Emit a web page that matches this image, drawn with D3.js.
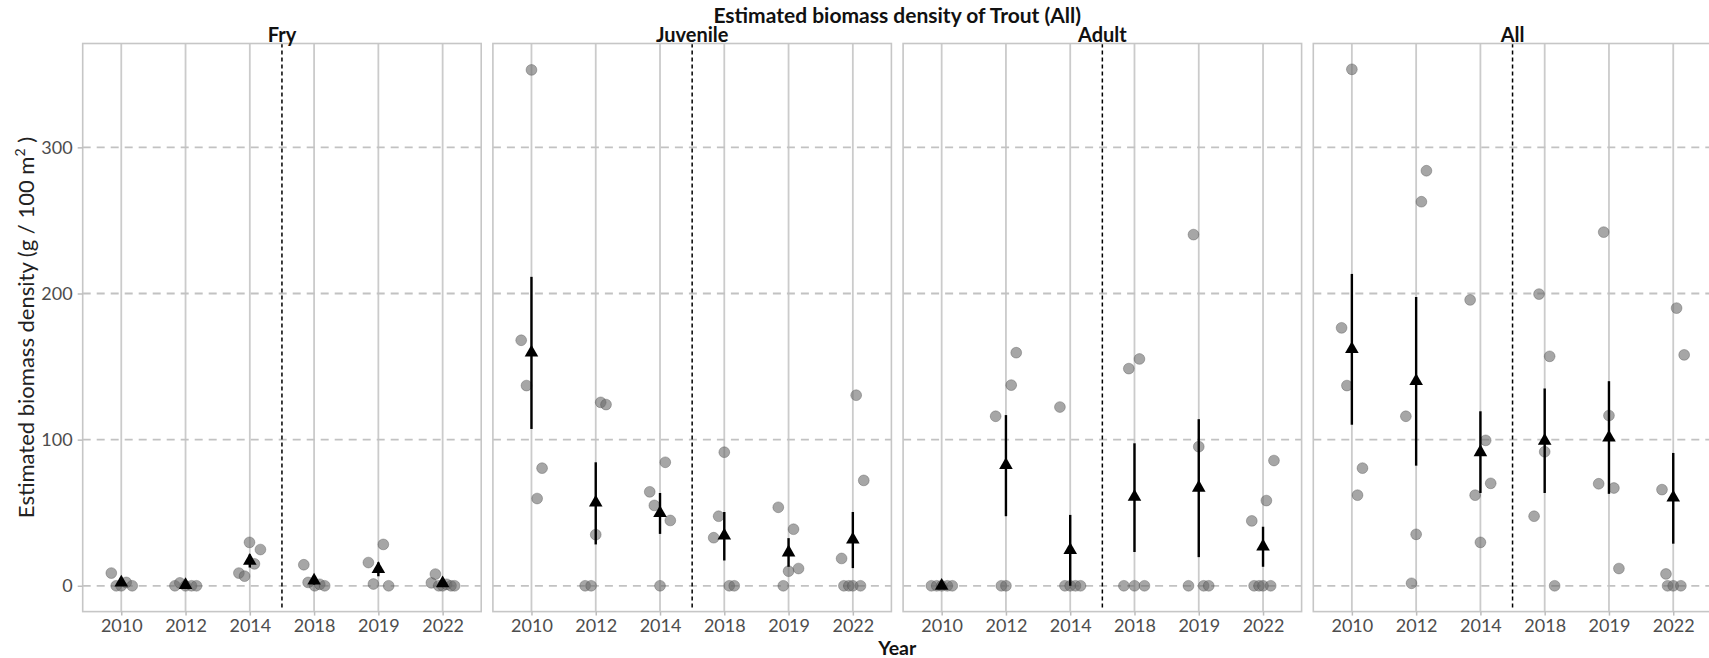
<!DOCTYPE html>
<html>
<head>
<meta charset="utf-8">
<script src="https://cdn.jsdelivr.net/npm/d3@7"></script>
<style>
  html, body { margin: 0; padding: 0; background: #fff; }
  svg { display: block; }
  text { font-family: Lato, "Open Sans", sans-serif; }
</style>
</head>
<body>
<svg id="chart" width="1709" height="658"></svg>
<script>
// ---- data ---------------------------------------------------------------
const stages = ["Fry", "Juvenile", "Adult", "All"];
const years = ["2010", "2012", "2014", "2018", "2019", "2022"];
const yTicks = [0, 100, 200, 300];

// per-site biomass density (g / 100 m^2), one list per survey year
const fryDensity = [
  [8.7, 0, 0, 2.3, 0],
  [0, 2, 0, 0, 0],
  [29.7, 24.8, 8.7, 6.6, 15],
  [14.4, 2.3, 0, 1, 0],
  [15.9, 28.3, 1.2, 0],
  [2, 8, 0, 0, 1, 0, 0]
];
const juvenileDensity = [
  [353, 168, 137, 80.5, 59.7],
  [125.5, 124, 35, 0, 0],
  [64.3, 84.5, 55, 44.7, 0],
  [91.4, 47.6, 32.9, 0, 0],
  [53.7, 38.7, 10, 11.8, 0],
  [130.4, 72.1, 18.7, 0, 0, 0, 0]
];
const adultDensity = [
  [0, 0, 0, 0, 0],
  [159.5, 137.3, 116, 0, 0],
  [122.3, 0, 0, 0, 0],
  [148.6, 155.2, 0, 0, 0],
  [240.3, 95.2, 0, 0, 0],
  [85.7, 58.3, 44.4, 0, 0, 0, 0]
];
const allDensity = [
  [353.4, 176.5, 137, 80.5, 62],
  [284, 262.8, 116, 35.2, 1.7],
  [195.6, 99.5, 70.1, 62, 29.7],
  [199.6, 157, 91.7, 47.6, 0],
  [242, 116.5, 69.8, 66.9, 11.8],
  [190, 158, 65.8, 8.1, 0, 0, 0]
];

// horizontal jitter of each site, in year-category units
const fryJitter = [
  [-0.155, -0.078, 0, 0.077, 0.17],
  [-0.165, -0.088, 0, 0.093, 0.17],
  [-0.005, 0.165, -0.17, -0.082, 0.072],
  [-0.16, -0.093, 0.01, 0.088, 0.165],
  [-0.155, 0.077, -0.077, 0.16],
  [-0.175, -0.113, -0.06, 0, 0.062, 0.13, 0.186]
];
const juvenileJitter = [
  [0, -0.16, -0.077, 0.165, 0.088],
  [0.077, 0.16, 0, -0.165, -0.072],
  [-0.16, 0.082, -0.088, 0.16, 0],
  [0, -0.088, -0.165, 0.077, 0.155],
  [-0.16, 0.077, 0, 0.155, -0.082],
  [0.052, 0.17, -0.175, -0.139, -0.062, 0, 0.119]
];
const adultJitter = [
  [-0.16, -0.077, 0, 0.088, 0.165],
  [0.16, 0.082, -0.16, -0.072, 0],
  [-0.16, -0.082, 0, 0.082, 0.16],
  [-0.088, 0.077, -0.165, 0, 0.155],
  [-0.082, 0, -0.16, 0.077, 0.155],
  [0.17, 0.052, -0.175, -0.139, -0.062, 0, 0.119]
];
const allJitter = [
  [0, -0.16, -0.077, 0.165, 0.088],
  [0.16, 0.082, -0.16, 0, -0.072],
  [-0.16, 0.082, 0.16, -0.082, 0],
  [-0.088, 0.077, 0, -0.165, 0.155],
  [-0.082, 0, -0.16, 0.077, 0.155],
  [0.052, 0.17, -0.175, -0.113, -0.088, 0, 0.119]
];

// yearly mean and its interval (lower, upper)
const fryMean  = [2.2, 0.4, 17.0, 3.5, 11.4, 1.6];
const fryLower = [0.4, 0.0, 12.5, 0.8, 6.5, 0.3];
const fryUpper = [4.0, 1.2, 21.5, 6.3, 16.0, 2.9];

const juvenileMean  = [159.6, 57.0, 49.7, 34.4, 22.8, 31.6];
const juvenileLower = [107.3, 28.3, 35.5, 17.3, 13.0, 12.1];
const juvenileUpper = [211.4, 84.5, 63.5, 50.5, 32.6, 50.5];

const adultMean  = [0, 82.6, 24.5, 60.8, 67.1, 26.9];
const adultLower = [0, 47.6, 0, 23.1, 19.6, 13.0];
const adultUpper = [0, 116.8, 48.5, 97.5, 114.0, 40.4];

const allMean  = [162.0, 140.0, 91.4, 99.2, 101.4, 60.3];
const allLower = [110.2, 82.2, 63.5, 63.5, 62.9, 28.8];
const allUpper = [213.4, 197.6, 119.4, 135.0, 140.0, 90.9];

const chartTitle = "Estimated biomass density of Trout (All)";
const xTitle = "Year";
const yTitle = "Estimated biomass density (g / 100 m";

// ---- assemble per-panel records -----------------------------------------
const panels = [
  { stage: stages[0], density: fryDensity, jitter: fryJitter, mean: fryMean, lower: fryLower, upper: fryUpper },
  { stage: stages[1], density: juvenileDensity, jitter: juvenileJitter, mean: juvenileMean, lower: juvenileLower, upper: juvenileUpper },
  { stage: stages[2], density: adultDensity, jitter: adultJitter, mean: adultMean, lower: adultLower, upper: adultUpper },
  { stage: stages[3], density: allDensity, jitter: allJitter, mean: allMean, lower: allLower, upper: allUpper }
];

// ---- layout ---------------------------------------------------------------
const svg = d3.select("#chart");
const panelLeft0 = 82.7;
const panelStep = 410.2;
const panelW = 398.5;
const panelTop = 43.5;
const panelBottom = 611.6;

const allValues = panels.flatMap(p => p.density.flat().concat(p.upper));
const yMax = d3.max(allValues);
const yPad = yMax * 0.05;
const y = d3.scaleLinear().domain([-yPad, yMax + yPad]).range([panelBottom, panelTop]);
const x = d3.scalePoint().domain(years).range([0, panelW]).padding(0.6);
const step = x.step();

const gridColor = "#cbcbcb";
const tri = d3.symbol().type(d3.symbolTriangle).size(80);
const tickFont = "18px";

panels.forEach((p, i) => {
  const g = svg.append("g").attr("transform", `translate(${panelLeft0 + i * panelStep},0)`);

  // vertical year grid
  g.selectAll("line.vgrid").data(years).join("line")
    .attr("x1", d => x(d)).attr("x2", d => x(d))
    .attr("y1", panelTop).attr("y2", panelBottom)
    .attr("stroke", gridColor).attr("stroke-width", 1.8);

  // dashed horizontal grid
  g.selectAll("line.hgrid").data(yTicks).join("line")
    .attr("x1", 0).attr("x2", panelW)
    .attr("y1", d => y(d)).attr("y2", d => y(d))
    .attr("stroke", "#c2c2c2").attr("stroke-width", 1.8)
    .attr("stroke-dasharray", "8,6");

  // break between 2014 and 2018 survey periods
  const breakX = (x(years[2]) + x(years[3])) / 2;
  g.append("line")
    .attr("x1", breakX).attr("x2", breakX)
    .attr("y1", panelTop).attr("y2", panelBottom - 4)
    .attr("stroke", "#000").attr("stroke-width", 1.5)
    .attr("stroke-dasharray", "4,3");

  // panel border
  g.append("rect")
    .attr("x", 0).attr("y", panelTop)
    .attr("width", panelW).attr("height", panelBottom - panelTop)
    .attr("fill", "none").attr("stroke", "#c6c6c6").attr("stroke-width", 1.6);

  // site points
  const pts = [];
  years.forEach((yr, j) => {
    p.density[j].forEach((v, k) => pts.push({ yr, v, dx: p.jitter[j][k] }));
  });
  g.selectAll("circle.site").data(pts).join("circle")
    .attr("cx", d => x(d.yr) + d.dx * step)
    .attr("cy", d => y(d.v))
    .attr("r", 5.4)
    .attr("fill", "#6a6a6a").attr("fill-opacity", 0.6)
    .attr("stroke", "#4a4a4a").attr("stroke-opacity", 0.45).attr("stroke-width", 0.8);

  // interval bars
  g.selectAll("line.err").data(years).join("line")
    .attr("x1", d => x(d)).attr("x2", d => x(d))
    .attr("y1", (d, j) => y(p.lower[j])).attr("y2", (d, j) => y(p.upper[j]))
    .attr("stroke", "#000").attr("stroke-width", 2.4);

  // means
  g.selectAll("path.mean").data(years).join("path")
    .attr("d", tri)
    .attr("transform", (d, j) => `translate(${x(d)},${y(p.mean[j])})`)
    .attr("fill", "#000");

  // x axis
  const xa = g.append("g").attr("transform", `translate(0,${panelBottom})`)
    .call(d3.axisBottom(x).tickSize(4).tickPadding(4));
  xa.select(".domain").remove();
  xa.selectAll(".tick line").attr("stroke", "#bdbdbd").attr("stroke-width", 1.5);
  xa.selectAll(".tick text")
    .style("font-family", "Lato, sans-serif").style("font-size", tickFont).attr("fill", "#4d4d4d");

  // y axis on the first panel only
  if (i === 0) {
    const ya = g.append("g")
      .call(d3.axisLeft(y).tickValues(yTicks).tickSize(5).tickPadding(5));
    ya.select(".domain").remove();
    ya.selectAll(".tick line").attr("stroke", "#bdbdbd").attr("stroke-width", 1.5);
    ya.selectAll(".tick text")
      .style("font-family", "Lato, sans-serif").style("font-size", tickFont).attr("fill", "#4d4d4d");
  }

  // facet label
  g.append("text")
    .attr("x", panelW / 2).attr("y", 42)
    .attr("text-anchor", "middle")
    .style("font-size", "20px").style("font-weight", "bold").attr("fill", "#111")
    .text(p.stage);
});

// titles
const centerX = panelLeft0 + (3 * panelStep + panelW) / 2;
svg.append("text")
  .attr("x", centerX).attr("y", 23)
  .attr("text-anchor", "middle")
  .style("font-size", "21px").style("font-weight", "bold").attr("fill", "#111")
  .text(chartTitle);

svg.append("text")
  .attr("x", centerX).attr("y", 655)
  .attr("text-anchor", "middle")
  .style("font-size", "19.5px").style("font-weight", "bold").attr("fill", "#111")
  .text(xTitle);

const yt = svg.append("text")
  .attr("transform", `translate(34,${(panelTop + panelBottom) / 2}) rotate(-90)`)
  .attr("text-anchor", "middle")
  .style("font-size", "22px").attr("fill", "#222");
yt.append("tspan").text(yTitle);
yt.append("tspan").attr("dy", -9).style("font-size", "14px").text("2");
yt.append("tspan").attr("dy", 9).text(" )");
</script>
</body>
</html>
